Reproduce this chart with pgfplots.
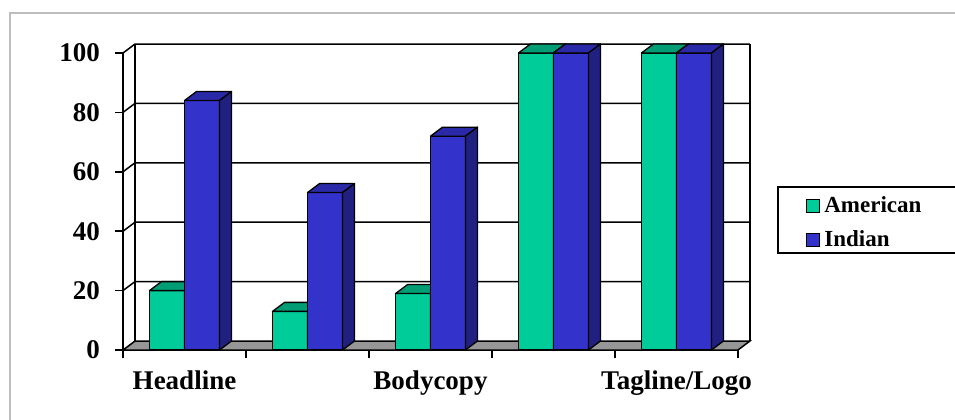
\documentclass[border=0pt]{standalone}
\usepackage{pgfplots}
\pgfplotsset{compat=1.18}
\usepackage{pgfplotstable}
\usepackage{fontspec}
\setmainfont{Liberation Serif}

\definecolor{amFront}{RGB}{0,204,153}
\definecolor{amTop}{RGB}{0,156,116}
\definecolor{amSide}{RGB}{0,120,90}
\definecolor{inFront}{RGB}{51,51,204}
\definecolor{inTop}{RGB}{42,42,168}
\definecolor{inSide}{RGB}{32,32,128}
\definecolor{floorGray}{RGB}{150,150,150}
\definecolor{frameGray}{RGB}{190,190,190}

\pgfplotstableread{
x American Indian
0 20  84
1 13  53
2 19  72
3 100 100
4 100 100
}\scores

\pgfdeclareplotmark{blank}{}

% extrusion depth (canvas), bar width (canvas), pt per y unit
\def\dX{6}\def\dY{4.5}\def\bw{17.5}\def\yu{1.485}

\pgfplotsset{
  extrude/.style 2 args={
    scatter, only marks, mark=blank, forget plot,
    visualization depends on={rawy \as \barval},
    scatter/@pre marker code/.code={%
      \pgfmathsetmacro\barlow{-\barval*\yu}%
      \pgfmathsetmacro\barback{\dY-\barval*\yu}%
      \path[fill=#1, draw=black, line width=0.65pt, line join=round]
        (-\bw pt,0pt) -- (0pt,0pt) -- (\dX pt,\dY pt) -- (\dX pt-\bw pt,\dY pt) -- cycle;
      \path[fill=#2, draw=black, line width=0.65pt, line join=round]
        (0pt,0pt) -- (\dX pt,\dY pt) -- (\dX pt,\barback pt) -- (0pt,\barlow pt) -- cycle;
    },
    scatter/@post marker code/.code={},
  },
}

\begin{document}
\begin{tikzpicture}
\begin{axis}[
  at={(61.5pt,34.5pt)}, anchor=south west,
  scale only axis, width=307.5pt, height=148.5pt,
  xmin=-0.5, xmax=4.5, ymin=0, ymax=100,
  clip=false, clip mode=individual,
  axis x line*=bottom, axis y line*=left,
  axis line style={black, line width=0.75pt},
  tick align=outside,
  ytick={0,20,...,100},
  xtick={0,2,4},
  xticklabels={Headline,Bodycopy,Tagline/Logo},
  minor xtick={-0.5,0.5,...,4.5},
  major tick length=4pt, minor tick length=4pt,
  tick style={black, line width=0.75pt},
  major x tick style={draw=none},
  ticklabel style={font=\fontsize{13.5}{16}\selectfont\bfseries},
  yticklabel style={xshift=-4pt},
  xticklabel style={yshift=-2.7pt},
  /pgf/number format/assume math mode=true,
  legend style={draw=none, fill=none, at={(axis description cs:1.1008,0.4276)},
    anchor=west, row sep=3.5pt, font=\fontsize{11.5}{13}\selectfont\bfseries},
  legend cell align=left,
]
% floor
\fill[floorGray, draw=black, line width=0.75pt]
  (axis cs:-0.5,0) -- (axis cs:4.5,0) -- ([shift={(6pt,4.5pt)}]axis cs:4.5,0)
  -- ([shift={(6pt,4.5pt)}]axis cs:-0.5,0) -- cycle;
% side wall and back wall grid
\pgfplotsinvokeforeach{20,40,60,80,100}{
  \draw[black, line width=0.75pt] (axis cs:-0.5,#1) -- ([shift={(6pt,4.5pt)}]axis cs:-0.5,#1)
    -- ([shift={(6pt,4.5pt)}]axis cs:4.5,#1);
}
\draw[black, line width=0.75pt] ([shift={(6pt,4.5pt)}]axis cs:-0.5,0) -- ([shift={(6pt,4.5pt)}]axis cs:-0.5,100);
\draw[black, line width=0.75pt] ([shift={(6pt,4.5pt)}]axis cs:4.5,0) -- ([shift={(6pt,4.5pt)}]axis cs:4.5,100);

\addplot[ybar, forget plot, bar width=0.28455, bar shift=-0.142276,
  fill=amFront, draw=black, line width=0.65pt] table[x=x, y=American] {\scores};
\addplot[extrude={amTop}{amSide}] table[x=x, y=American] {\scores};
\addplot[ybar, forget plot, bar width=0.28455, bar shift=0.142276,
  fill=inFront, draw=black, line width=0.65pt] table[x=x, y=Indian] {\scores};
\addplot[extrude={inTop}{inSide}] table[x expr=\thisrow{x}+0.28455, y=Indian] {\scores};

\addlegendimage{legend image code/.code={\draw[fill=amFront, draw=black, line width=0.5pt] (0pt,-3.25pt) rectangle (6.5pt,3.25pt);}}
\addlegendentry{American}
\addlegendimage{legend image code/.code={\draw[fill=inFront, draw=black, line width=0.5pt] (0pt,-3.25pt) rectangle (6.5pt,3.25pt);}}
\addlegendentry{Indian}
\end{axis}
% legend frame and outer chart border
\draw[black, line width=0.6pt] (389pt,83pt) rectangle (479pt,116pt);
\draw[frameGray, line width=1pt] (5pt,-1pt) -- (5pt,203pt) -- (479pt,203pt);
\pgfresetboundingbox
\path[use as bounding box] (0,0) rectangle (477.5pt,209.5pt);
\end{tikzpicture}
\end{document}
